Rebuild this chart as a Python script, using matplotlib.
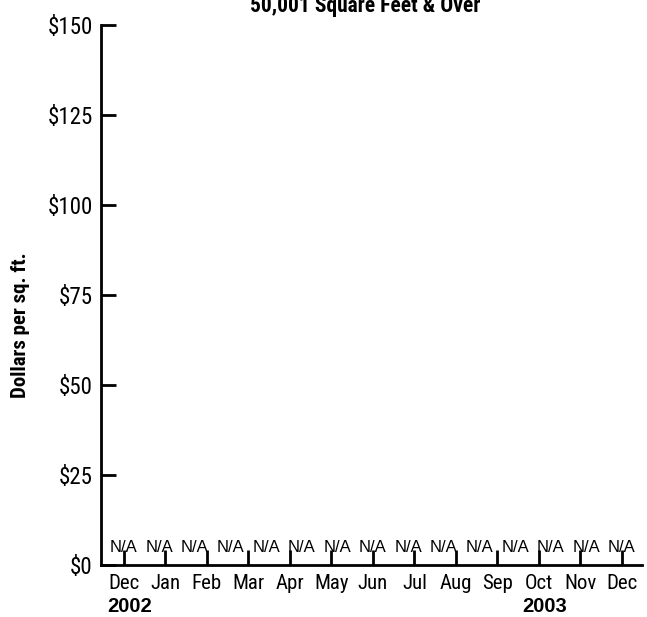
import numpy as np
import matplotlib
matplotlib.use("Agg")
import matplotlib.pyplot as plt

months = ["Dec", "Jan", "Feb", "Mar", "Apr", "May", "Jun", "Jul", "Aug", "Sep", "Oct", "Nov", "Dec"]
years = ["2002", "2003"]
year_month_idx = [0, 10]
na_labels = ["N/A"] * 15
y_ticks = [0, 25, 50, 75, 100, 125, 150]

narrow = ["Roboto Condensed", "Liberation Sans", "DejaVu Sans"]
regular = ["Liberation Sans", "DejaVu Sans"]

fig = plt.figure(figsize=(6.47, 6.17), dpi=100)
ax = fig.add_axes([0.156, 0.084, 0.836, 0.875])

ax.set_xlim(-0.55, 12.48)
ax.set_ylim(0, 150)

for s in ["top", "right"]:
    ax.spines[s].set_visible(False)
for s in ["left", "bottom"]:
    ax.spines[s].set_linewidth(2)

ax.set_yticks(y_ticks)
ax.set_yticklabels([f"${v}" for v in y_ticks], family=narrow, fontsize=16.5)
ax.set_xticks(range(len(months)))
ax.set_xticklabels(months, family=narrow, fontsize=15)
ax.tick_params(axis="both", direction="in", width=2, length=11, pad=6)
ax.tick_params(axis="x", pad=6)

# no data available: N/A markers along the baseline
na_x = np.linspace(0, len(months) - 1, len(na_labels))
for x, t in zip(na_x, na_labels):
    ax.text(x, 5, t, ha="center", va="center", family=regular, fontsize=12)

for i, yr in zip(year_month_idx, years):
    ax.annotate(yr, xy=(i, 0), xycoords=("data", "axes fraction"),
                xytext=(-12, -23), textcoords="offset points",
                ha="left", va="top", family=regular, fontsize=14.5, weight="bold")

ax.set_ylabel("Dollars per sq. ft.", family=narrow, fontsize=15, weight="bold")
ax.yaxis.set_label_coords(-0.131, 0.444)
fig.text(0.565, 1 - 12 / 617, "50,001 Square Feet & Over", ha="center", va="baseline",
         family=narrow, fontsize=15.5, weight="bold")

fig.savefig("out.png", dpi=100)
